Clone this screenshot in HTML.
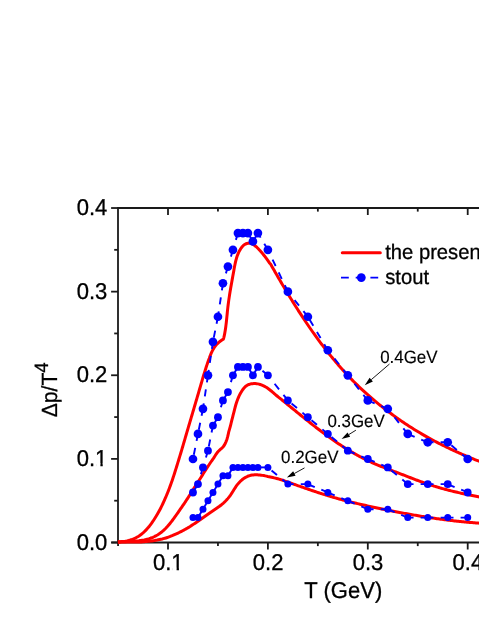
<!DOCTYPE html>
<html><head><meta charset="utf-8"><title>chart</title>
<style>html,body{margin:0;padding:0;background:#fff;}svg{display:block;will-change:transform;}text{font-family:"Liberation Sans",sans-serif;fill:#000;text-rendering:geometricPrecision;stroke:#000;stroke-width:0.3px;}</style></head><body>
<svg width="479" height="620" viewBox="0 0 479 620">
<rect width="479" height="620" fill="#fff"/>
<g stroke="#1a1a1a" stroke-width="1.8" fill="none" stroke-linecap="butt">
<path d="M118,543.40 L118,208 L490,208"/>
<path d="M111.3,542.5 L490,542.5"/>
<path d="M118.05,542.5 L118.05,546.10"/>
<path d="M168.00,542.5 L168.00,549.50"/>
<path d="M168.00,208 L168.00,215.00"/>
<path d="M217.95,542.5 L217.95,546.10"/>
<path d="M217.95,208 L217.95,211.60"/>
<path d="M267.90,542.5 L267.90,549.50"/>
<path d="M267.90,208 L267.90,215.00"/>
<path d="M317.85,542.5 L317.85,546.10"/>
<path d="M317.85,208 L317.85,211.60"/>
<path d="M367.80,542.5 L367.80,549.50"/>
<path d="M367.80,208 L367.80,215.00"/>
<path d="M417.75,542.5 L417.75,546.10"/>
<path d="M417.75,208 L417.75,211.60"/>
<path d="M467.70,542.5 L467.70,549.50"/>
<path d="M467.70,208 L467.70,215.00"/>
<path d="M118,542.50 L111.10,542.50"/>
<path d="M118,500.69 L114.20,500.69"/>
<path d="M118,458.88 L111.10,458.88"/>
<path d="M118,417.07 L114.20,417.07"/>
<path d="M118,375.26 L111.10,375.26"/>
<path d="M118,333.45 L114.20,333.45"/>
<path d="M118,291.64 L111.10,291.64"/>
<path d="M118,249.83 L114.20,249.83"/>
<path d="M118,208.02 L111.10,208.02"/>
</g>
<text transform="translate(168.20,570.40) scale(0.9620,1)" font-size="22.88" text-anchor="middle">0.1</text>
<text transform="translate(268.10,570.40) scale(0.9620,1)" font-size="22.88" text-anchor="middle">0.2</text>
<text transform="translate(368.00,570.40) scale(0.9620,1)" font-size="22.88" text-anchor="middle">0.3</text>
<text transform="translate(467.90,570.40) scale(0.9620,1)" font-size="22.88" text-anchor="middle">0.4</text>
<text transform="translate(107.30,549.50) scale(0.9620,1)" font-size="22.88" text-anchor="end">0.0</text>
<text transform="translate(107.30,465.88) scale(0.9620,1)" font-size="22.88" text-anchor="end">0.1</text>
<text transform="translate(107.30,382.26) scale(0.9620,1)" font-size="22.88" text-anchor="end">0.2</text>
<text transform="translate(107.30,298.64) scale(0.9620,1)" font-size="22.88" text-anchor="end">0.3</text>
<text transform="translate(107.30,215.02) scale(0.9620,1)" font-size="22.88" text-anchor="end">0.4</text>
<rect x="172.33" y="567.79" width="4.26" height="3.81" fill="#fff"/><rect x="178.94" y="567.79" width="4.29" height="3.81" fill="#fff"/>
<rect x="96.13" y="463.27" width="4.26" height="3.81" fill="#fff"/><rect x="102.74" y="463.27" width="4.29" height="3.81" fill="#fff"/>
<text transform="translate(343.30,597.70) scale(0.9620,1)" font-size="22.88" text-anchor="middle">T (GeV)</text>
<text transform="translate(56.7,417.3) rotate(-90) scale(0.962,1)" font-size="21.94">Δp/T<tspan font-size="19.34" dy="-8.7">4</tspan></text>
<g stroke="#ff0000" stroke-width="3.0" fill="none" stroke-linejoin="round" stroke-linecap="butt">
<path d="M117.77,541.75 L119.63,541.71 L121.47,541.61 L123.30,541.43 L125.11,541.18 L126.89,540.85 L128.64,540.45 L130.35,539.98 L132.03,539.42 L133.66,538.79 L135.24,538.08 L136.77,537.29 L138.25,536.42 L139.68,535.49 L141.06,534.48 L142.39,533.41 L143.68,532.28 L144.93,531.10 L146.14,529.87 L147.31,528.60 L148.44,527.28 L149.54,525.93 L150.60,524.55 L151.64,523.14 L152.65,521.70 L153.63,520.25 L154.58,518.79 L155.51,517.31 L156.42,515.82 L157.31,514.32 L158.17,512.80 L159.01,511.28 L159.84,509.74 L160.64,508.19 L161.42,506.64 L162.18,505.07 L162.93,503.49 L163.65,501.91 L164.36,500.31 L165.08,498.71 L165.78,497.10 L166.47,495.48 L167.14,493.85 L167.80,492.22 L168.45,490.58 L169.08,488.94 L169.71,487.29 L170.32,485.63 L170.92,483.97 L171.51,482.31 L172.10,480.64 L172.67,478.97 L173.22,477.29 L173.78,475.61 L174.32,473.93 L174.86,472.25 L175.39,470.57 L175.92,468.88 L176.44,467.19 L176.97,465.51 L177.48,463.82 L178.00,462.13 L178.52,460.44 L179.03,458.76 L179.54,457.07 L180.06,455.39 L180.57,453.71 L181.09,452.03 L181.60,450.35 L182.09,448.67 L182.58,446.99 L183.07,445.32 L183.56,443.64 L184.05,441.97 L184.54,440.30 L185.04,438.63 L185.53,436.95 L186.02,435.28 L186.51,433.62 L187.00,431.95 L187.49,430.28 L187.98,428.61 L188.47,426.94 L188.96,425.27 L189.45,423.61 L189.95,421.94 L190.44,420.27 L190.93,418.61 L191.42,416.94 L191.91,415.27 L192.41,413.61 L192.90,411.94 L193.39,410.27 L193.88,408.60 L194.37,406.93 L194.86,405.26 L195.35,403.59 L195.84,401.92 L196.33,400.25 L196.83,398.58 L197.32,396.91 L197.81,395.23 L198.30,393.56 L198.79,391.88 L199.28,390.20 L199.77,388.53 L200.26,386.85 L200.75,385.17 L201.24,383.48 L201.73,381.80 L202.22,380.11 L202.71,378.43 L203.20,376.74 L203.69,375.05 L204.23,373.35 L204.77,371.66 L205.31,369.96 L205.85,368.26 L206.39,366.56 L206.94,364.87 L207.50,363.18 L208.08,361.50 L208.69,359.84 L209.32,358.19 L209.89,356.57 L210.49,354.97 L211.13,353.40 L211.83,351.86 L212.58,350.36 L213.40,348.91 L214.29,347.49 L215.26,346.13 L216.32,344.82 L217.51,343.56 L218.79,342.36 L220.17,341.23 L221.65,340.16 L223.31,339.25 L223.76,337.85 L224.11,336.36 L224.43,334.85 L224.73,333.34 L225.00,331.82 L225.26,330.30 L225.49,328.77 L225.71,327.23 L225.91,325.68 L226.10,324.14 L226.28,322.58 L226.45,321.03 L226.61,319.48 L226.77,317.92 L226.92,316.36 L227.08,314.80 L227.23,313.25 L227.38,311.69 L227.54,310.14 L227.71,308.59 L227.88,307.05 L228.07,305.51 L228.26,303.98 L228.46,302.45 L228.67,300.92 L228.89,299.39 L229.11,297.87 L229.34,296.35 L229.57,294.83 L229.82,293.31 L230.06,291.79 L230.32,290.27 L230.57,288.76 L230.83,287.24 L231.10,285.72 L231.37,284.20 L231.64,282.68 L231.91,281.16 L232.18,279.63 L232.46,278.11 L232.74,276.57 L233.02,275.04 L233.30,273.50 L233.58,271.96 L233.86,270.41 L234.13,268.86 L234.42,267.31 L234.71,265.75 L235.02,264.20 L235.35,262.66 L235.71,261.12 L236.11,259.59 L236.54,258.07 L237.02,256.57 L237.55,255.09 L238.14,253.63 L238.79,252.19 L239.51,250.77 L240.30,249.39 L241.18,248.04 L242.14,246.78 L243.18,245.66 L244.32,244.71 L245.54,243.99 L246.84,243.51 L248.18,243.25 L249.54,243.24 L250.89,243.46 L252.21,243.93 L253.48,244.63 L254.70,245.53 L255.86,246.46 L256.99,247.47 L258.08,248.56 L259.15,249.68 L260.18,250.81 L261.20,251.95 L262.19,253.10 L263.16,254.29 L264.11,255.49 L265.04,256.69 L265.96,257.90 L266.86,259.10 L267.74,260.33 L268.61,261.61 L269.47,262.89 L270.54,264.06 L271.29,265.37 L272.04,266.68 L272.78,267.99 L273.53,269.30 L274.29,270.61 L275.04,271.92 L275.79,273.23 L276.55,274.53 L277.30,275.84 L278.06,277.15 L278.82,278.46 L279.59,279.76 L280.35,281.07 L281.12,282.37 L281.88,283.68 L282.65,284.98 L283.43,286.28 L284.20,287.59 L284.98,288.89 L285.75,290.19 L286.53,291.49 L287.32,292.79 L288.10,294.09 L288.89,295.38 L289.68,296.68 L290.47,297.97 L291.26,299.26 L292.06,300.56 L292.86,301.85 L293.66,303.13 L294.46,304.42 L295.27,305.71 L296.08,306.99 L296.89,308.27 L297.71,309.55 L298.52,310.83 L299.35,312.11 L300.17,313.38 L301.00,314.66 L301.82,315.93 L302.66,317.20 L303.49,318.47 L304.33,319.73 L305.17,320.99 L306.02,322.25 L306.87,323.51 L307.72,324.77 L308.57,326.02 L309.43,327.27 L310.29,328.52 L311.16,329.76 L312.03,331.01 L312.90,332.25 L313.78,333.48 L314.66,334.72 L315.54,335.95 L316.43,337.18 L317.32,338.41 L318.21,339.63 L319.11,340.85 L320.02,342.07 L320.92,343.28 L321.83,344.49 L322.75,345.70 L323.67,346.90 L324.59,348.10 L325.52,349.30 L326.45,350.49 L327.38,351.68 L328.32,352.87 L329.27,354.05 L330.22,355.23 L331.17,356.40 L332.13,357.57 L333.09,358.74 L334.06,359.90 L335.03,361.06 L336.01,362.22 L336.99,363.37 L337.97,364.51 L338.96,365.66 L339.96,366.80 L340.96,367.93 L341.97,369.06 L342.98,370.18 L343.99,371.31 L345.01,372.42 L346.04,373.53 L347.07,374.64 L348.10,375.74 L349.15,376.84 L350.19,377.93 L351.24,379.02 L352.30,380.10 L353.36,381.18 L354.43,382.25 L355.51,383.32 L356.59,384.38 L357.67,385.44 L358.76,386.49 L359.86,387.54 L360.96,388.58 L362.07,389.62 L363.18,390.65 L364.29,391.68 L365.42,392.70 L366.54,393.71 L367.68,394.72 L368.81,395.73 L369.96,396.73 L371.10,397.72 L372.25,398.71 L373.41,399.70 L374.57,400.68 L375.74,401.65 L376.91,402.62 L378.08,403.58 L379.26,404.54 L380.44,405.49 L381.63,406.44 L382.82,407.38 L384.01,408.32 L385.21,409.25 L386.42,410.17 L387.62,411.09 L388.83,412.01 L390.05,412.92 L391.27,413.82 L392.49,414.72 L393.71,415.62 L394.94,416.50 L396.18,417.39 L397.41,418.26 L398.65,419.14 L399.90,420.00 L401.14,420.86 L402.40,421.72 L403.65,422.57 L404.91,423.41 L406.17,424.25 L407.44,425.08 L408.71,425.91 L409.98,426.73 L411.26,427.54 L412.54,428.35 L413.82,429.15 L415.11,429.95 L416.40,430.74 L417.69,431.53 L418.99,432.31 L420.29,433.08 L421.60,433.85 L422.90,434.61 L424.22,435.37 L425.53,436.12 L426.85,436.86 L428.17,437.60 L429.49,438.33 L430.82,439.06 L432.15,439.78 L433.49,440.50 L434.83,441.21 L436.17,441.91 L437.51,442.61 L438.86,443.30 L440.20,443.99 L441.56,444.67 L442.91,445.35 L444.27,446.02 L445.63,446.69 L446.99,447.35 L448.36,448.01 L449.73,448.66 L451.10,449.30 L452.47,449.94 L453.85,450.58 L455.22,451.21 L456.60,451.84 L457.99,452.46 L459.37,453.07 L460.76,453.68 L462.15,454.29 L463.54,454.89 L464.94,455.48 L466.33,456.07 L467.73,456.66 L469.13,457.24 L470.54,457.82 L471.94,458.39 L473.35,458.96 L474.75,459.52 L476.16,460.08 L477.58,460.63 L478.99,461.18 L480.41,461.73 L481.82,462.27 L483.24,462.81 L484.66,463.34 L486.08,463.86"/>
<path d="M118.04,542.14 L119.26,542.01 L120.50,541.90 L121.76,541.81 L123.03,541.73 L124.32,541.67 L125.61,541.63 L126.92,541.59 L128.23,541.56 L129.56,541.53 L130.88,541.45 L132.22,541.35 L133.55,541.25 L134.89,541.13 L136.22,541.01 L137.56,540.87 L138.89,540.72 L140.21,540.54 L141.53,540.35 L142.84,540.13 L144.15,539.89 L145.44,539.62 L146.72,539.33 L147.99,539.00 L149.24,538.63 L150.47,538.23 L151.69,537.78 L152.88,537.28 L154.06,536.74 L155.21,536.15 L156.34,535.57 L157.45,534.93 L158.53,534.25 L159.60,533.53 L160.64,532.78 L161.66,531.99 L162.66,531.17 L163.64,530.32 L164.60,529.45 L165.54,528.51 L166.46,527.53 L167.37,526.54 L168.25,525.53 L169.12,524.50 L169.98,523.46 L170.82,522.40 L171.65,521.32 L172.47,520.24 L173.28,519.15 L174.08,518.05 L174.88,516.95 L175.67,515.85 L176.45,514.74 L177.23,513.63 L178.01,512.52 L178.78,511.40 L179.54,510.29 L180.30,509.19 L181.05,508.12 L181.81,507.04 L182.55,505.96 L183.29,504.88 L184.03,503.80 L184.76,502.72 L185.49,501.63 L186.21,500.54 L186.93,499.45 L187.65,498.35 L188.36,497.25 L189.07,496.15 L189.77,495.05 L190.47,493.95 L191.17,492.84 L191.87,491.73 L192.56,490.62 L193.24,489.51 L193.93,488.39 L194.61,487.27 L195.28,486.20 L195.96,485.18 L196.63,484.16 L197.29,483.13 L197.96,482.11 L198.62,481.08 L199.28,480.05 L199.94,479.01 L200.59,477.98 L201.25,476.94 L201.90,475.90 L202.54,474.86 L203.19,473.82 L203.84,472.78 L204.49,471.74 L205.14,470.71 L205.78,469.70 L206.43,468.70 L207.08,467.70 L207.74,466.70 L208.39,465.71 L209.05,464.71 L209.72,463.72 L210.38,462.73 L211.05,461.75 L211.73,460.77 L212.41,459.79 L213.09,458.82 L213.79,457.86 L214.51,456.72 L215.26,455.51 L216.03,454.31 L216.85,453.14 L217.72,451.99 L218.64,451.00 L219.61,450.11 L220.60,449.24 L221.58,448.36 L222.51,447.46 L223.38,446.51 L224.13,445.49 L224.79,444.40 L225.36,443.25 L225.87,442.07 L226.33,440.87 L226.77,439.66 L227.18,438.43 L227.54,437.20 L227.85,435.96 L228.14,434.71 L228.41,433.46 L228.66,432.19 L229.02,430.93 L229.39,429.66 L229.75,428.38 L230.10,427.10 L230.44,425.81 L230.77,424.53 L231.09,423.24 L231.41,421.95 L231.72,420.65 L232.04,419.36 L232.38,418.07 L232.71,416.77 L233.05,415.48 L233.38,414.19 L233.72,412.90 L234.05,411.61 L234.35,410.33 L234.66,409.05 L234.99,407.78 L235.33,406.51 L235.68,405.24 L236.06,403.99 L236.46,402.74 L236.88,401.49 L237.34,400.26 L237.79,399.03 L238.28,397.82 L238.80,396.61 L239.36,395.41 L239.96,394.23 L240.60,393.06 L241.29,391.92 L241.94,390.81 L242.66,389.75 L243.43,388.74 L244.24,387.81 L245.01,386.95 L245.88,386.18 L246.83,385.50 L247.86,384.93 L248.92,384.47 L250.06,384.10 L251.26,383.84 L252.57,383.67 L253.91,383.59 L255.23,383.60 L256.51,383.70 L257.77,383.89 L259.00,384.15 L260.20,384.50 L261.36,384.92 L262.49,385.41 L263.58,385.88 L264.64,386.40 L265.68,386.97 L266.70,387.59 L267.70,388.26 L268.68,388.96 L269.65,389.70 L270.61,390.46 L271.56,391.23 L272.53,392.06 L273.51,392.91 L274.49,393.77 L275.44,394.68 L276.43,395.47 L277.41,396.26 L278.40,397.05 L279.39,397.85 L280.37,398.65 L281.36,399.44 L282.34,400.24 L283.33,401.04 L284.31,401.84 L285.30,402.65 L286.28,403.45 L287.27,404.25 L288.25,405.06 L289.24,405.86 L290.22,406.67 L291.21,407.48 L292.20,408.28 L293.18,409.09 L294.17,409.90 L295.16,410.70 L296.14,411.51 L297.13,412.32 L298.12,413.12 L299.11,413.93 L300.10,414.74 L301.09,415.54 L302.08,416.35 L303.08,417.15 L304.07,417.95 L305.07,418.75 L306.06,419.55 L307.06,420.35 L308.06,421.15 L309.05,421.94 L310.05,422.74 L311.06,423.53 L312.06,424.32 L313.06,425.11 L314.07,425.90 L315.08,426.68 L316.08,427.46 L317.10,428.24 L318.11,429.02 L319.12,429.80 L320.14,430.57 L321.15,431.34 L322.17,432.11 L323.19,432.87 L324.22,433.63 L325.24,434.39 L326.27,435.15 L327.30,435.90 L328.33,436.64 L329.36,437.39 L330.40,438.13 L331.44,438.87 L332.48,439.60 L333.52,440.33 L334.57,441.05 L335.61,441.77 L336.66,442.49 L337.72,443.20 L338.77,443.91 L339.83,444.61 L340.89,445.31 L341.96,446.00 L343.02,446.69 L344.09,447.38 L345.17,448.05 L346.24,448.73 L347.32,449.39 L348.41,450.06 L349.49,450.71 L350.58,451.36 L351.67,452.01 L352.77,452.65 L353.87,453.28 L354.97,453.91 L356.07,454.53 L357.18,455.14 L358.30,455.75 L359.41,456.35 L360.53,456.95 L361.66,457.54 L362.79,458.12 L363.92,458.69 L365.06,459.26 L366.20,459.82 L367.34,460.38 L368.49,460.92 L369.64,461.46 L370.80,461.99 L371.96,462.52 L373.12,463.03 L374.29,463.54 L375.46,464.05 L376.63,464.55 L377.81,465.04 L378.99,465.53 L380.17,466.01 L381.36,466.49 L382.55,466.96 L383.73,467.43 L384.93,467.90 L386.12,468.36 L387.31,468.83 L388.50,469.29 L389.70,469.74 L390.89,470.20 L392.09,470.66 L393.29,471.11 L394.48,471.56 L395.68,472.02 L396.87,472.47 L398.07,472.93 L399.26,473.39 L400.45,473.84 L401.64,474.30 L402.83,474.76 L404.02,475.22 L405.21,475.68 L406.39,476.14 L407.58,476.60 L408.77,477.06 L409.96,477.52 L411.14,477.98 L412.33,478.44 L413.52,478.89 L414.70,479.34 L415.89,479.79 L417.08,480.24 L418.27,480.69 L419.46,481.13 L420.65,481.56 L421.85,482.00 L423.04,482.43 L424.24,482.85 L425.44,483.27 L426.64,483.69 L427.84,484.10 L429.05,484.50 L430.25,484.90 L431.46,485.29 L432.67,485.68 L433.89,486.06 L435.10,486.43 L436.32,486.80 L437.54,487.16 L438.76,487.52 L439.98,487.88 L441.21,488.22 L442.44,488.57 L443.66,488.91 L444.89,489.24 L446.13,489.57 L447.36,489.89 L448.59,490.21 L449.83,490.53 L451.07,490.84 L452.30,491.14 L453.54,491.45 L454.78,491.74 L456.03,492.04 L457.27,492.33 L458.51,492.62 L459.76,492.90 L461.00,493.18 L462.25,493.45 L463.49,493.73 L464.74,493.99 L465.99,494.26 L467.24,494.52 L468.49,494.78 L469.74,495.04 L470.98,495.29 L472.23,495.55 L473.48,495.79 L474.73,496.04 L475.98,496.28 L477.23,496.53 L478.48,496.77 L479.73,497.00 L480.98,497.24 L482.23,497.47 L483.48,497.70 L484.73,497.93 L485.98,498.16"/>
<path d="M118.00,542.19 L119.29,542.14 L120.58,542.10 L121.87,542.07 L123.17,542.04 L124.47,542.03 L125.78,542.02 L127.08,542.01 L128.39,542.01 L129.70,542.01 L131.01,542.01 L132.33,542.02 L133.64,542.02 L134.95,542.02 L136.27,542.01 L137.58,542.01 L138.90,541.99 L140.21,541.97 L141.53,541.89 L142.84,541.80 L144.15,541.71 L145.46,541.60 L146.77,541.48 L148.07,541.35 L149.38,541.21 L150.68,541.05 L151.97,540.89 L153.27,540.71 L154.56,540.52 L155.84,540.30 L157.12,540.07 L158.40,539.81 L159.67,539.53 L160.94,539.26 L162.20,538.97 L163.46,538.65 L164.71,538.31 L165.95,537.94 L167.19,537.55 L168.42,537.12 L169.65,536.68 L170.87,536.20 L172.08,535.71 L173.28,535.19 L174.48,534.66 L175.67,534.13 L176.85,533.60 L178.03,533.05 L179.20,532.49 L180.36,531.91 L181.51,531.31 L182.66,530.71 L183.80,530.10 L184.92,529.50 L186.05,528.88 L187.16,528.25 L188.26,527.62 L189.36,526.97 L190.46,526.30 L191.54,525.58 L192.62,524.85 L193.70,524.12 L194.77,523.39 L195.84,522.65 L196.91,521.91 L197.97,521.16 L199.04,520.42 L200.10,519.67 L201.16,518.92 L202.22,518.17 L203.29,517.42 L204.35,516.67 L205.42,515.92 L206.49,515.18 L207.56,514.43 L208.64,513.69 L209.72,512.96 L210.80,512.22 L211.90,511.50 L212.99,510.77 L214.09,510.04 L215.18,509.32 L216.27,508.58 L217.35,507.84 L218.42,507.08 L219.48,506.31 L220.51,505.52 L221.53,504.71 L222.52,503.87 L223.49,503.02 L224.44,502.14 L225.36,501.24 L226.26,500.31 L227.13,499.37 L227.98,498.39 L228.79,497.40 L229.58,496.38 L230.34,495.33 L231.07,494.26 L231.79,493.17 L232.48,492.06 L233.18,490.95 L233.87,489.83 L234.57,488.71 L235.28,487.59 L236.01,486.48 L236.77,485.43 L237.56,484.41 L238.39,483.41 L239.25,482.44 L240.15,481.50 L241.08,480.61 L242.04,479.78 L243.04,478.99 L244.07,478.27 L245.13,477.62 L246.22,477.04 L247.34,476.48 L248.50,476.00 L249.68,475.61 L250.88,475.31 L252.12,475.08 L253.37,474.92 L254.64,474.83 L255.92,474.80 L257.22,474.82 L258.52,474.88 L259.84,475.00 L261.16,475.16 L262.48,475.36 L263.80,475.59 L265.12,475.86 L266.44,476.14 L267.74,476.45 L269.04,476.71 L270.32,476.97 L271.59,477.25 L272.86,477.54 L274.12,477.84 L275.37,478.15 L276.61,478.48 L277.85,478.81 L279.08,479.15 L280.31,479.50 L281.53,479.86 L282.75,480.26 L283.97,480.70 L285.15,481.17 L286.34,481.59 L287.53,482.01 L288.72,482.43 L289.91,482.85 L291.10,483.27 L292.29,483.69 L293.48,484.11 L294.67,484.53 L295.87,484.95 L297.06,485.37 L298.25,485.79 L299.44,486.21 L300.64,486.63 L301.83,487.04 L303.02,487.46 L304.22,487.87 L305.41,488.29 L306.61,488.70 L307.80,489.11 L309.00,489.52 L310.20,489.92 L311.40,490.33 L312.59,490.73 L313.79,491.14 L314.99,491.54 L316.19,491.93 L317.39,492.33 L318.59,492.72 L319.80,493.11 L321.00,493.50 L322.20,493.89 L323.41,494.27 L324.61,494.65 L325.82,495.03 L327.03,495.40 L328.23,495.77 L329.44,496.14 L330.65,496.50 L331.86,496.86 L333.08,497.21 L334.29,497.57 L335.50,497.91 L336.72,498.26 L337.93,498.60 L339.15,498.94 L340.37,499.27 L341.59,499.60 L342.81,499.93 L344.03,500.25 L345.25,500.57 L346.47,500.89 L347.70,501.21 L348.92,501.52 L350.14,501.83 L351.37,502.13 L352.60,502.43 L353.82,502.73 L355.05,503.03 L356.28,503.33 L357.51,503.62 L358.74,503.91 L359.97,504.19 L361.20,504.48 L362.43,504.76 L363.66,505.04 L364.90,505.32 L366.13,505.59 L367.36,505.87 L368.60,506.14 L369.83,506.41 L371.07,506.68 L372.30,506.94 L373.54,507.21 L374.77,507.47 L376.01,507.73 L377.25,507.99 L378.49,508.25 L379.72,508.51 L380.96,508.76 L382.20,509.01 L383.44,509.27 L384.68,509.52 L385.92,509.77 L387.16,510.02 L388.40,510.27 L389.64,510.51 L390.88,510.76 L392.12,511.00 L393.36,511.24 L394.60,511.48 L395.84,511.72 L397.09,511.96 L398.33,512.20 L399.57,512.43 L400.81,512.67 L402.06,512.90 L403.30,513.13 L404.54,513.36 L405.79,513.59 L407.03,513.81 L408.28,514.03 L409.52,514.26 L410.77,514.48 L412.01,514.70 L413.26,514.91 L414.50,515.13 L415.75,515.34 L416.99,515.55 L418.24,515.76 L419.49,515.97 L420.74,516.17 L421.98,516.38 L423.23,516.58 L424.48,516.78 L425.73,516.98 L426.98,517.17 L428.23,517.36 L429.47,517.56 L430.72,517.74 L431.97,517.93 L433.22,518.12 L434.48,518.30 L435.73,518.48 L436.98,518.66 L438.23,518.83 L439.48,519.01 L440.73,519.18 L441.98,519.34 L443.24,519.51 L444.49,519.67 L445.74,519.84 L447.00,519.99 L448.25,520.15 L449.50,520.31 L450.76,520.46 L452.01,520.61 L453.27,520.75 L454.52,520.89 L455.78,521.04 L457.04,521.17 L458.29,521.31 L459.55,521.44 L460.81,521.57 L462.06,521.70 L463.32,521.82 L464.58,521.95 L465.84,522.06 L467.09,522.18 L468.35,522.29 L469.61,522.40 L470.87,522.51 L472.13,522.61 L473.39,522.72 L474.65,522.81 L475.91,522.91 L477.17,523.00 L478.44,523.09 L479.70,523.18 L480.96,523.26 L482.22,523.34 L483.48,523.41 L484.75,523.49 L486.01,523.56"/>
</g>
<g stroke="#0000ff" stroke-width="1.9" fill="none" stroke-dasharray="7.1 7.1">
<path d="M467.70,459.02 L447.72,442.28"/>
<path d="M447.72,442.28 L427.74,442.28"/>
<path d="M427.74,442.28 L407.76,433.92"/>
<path d="M407.76,433.92 L387.78,408.81"/>
<path d="M387.78,408.81 L367.80,400.44"/>
<path d="M367.80,400.44 L347.82,375.34"/>
<path d="M347.82,375.34 L327.84,350.24"/>
<path d="M327.84,350.24 L307.86,316.76"/>
<path d="M307.86,316.76 L287.88,291.66"/>
<path d="M287.88,291.66 L267.90,249.82"/>
<path d="M267.90,249.82 L257.91,233.08"/>
<path d="M257.91,233.08 L252.91,241.45"/>
<path d="M252.91,241.45 L247.92,233.08"/>
<path d="M247.92,233.08 L242.92,233.08"/>
<path d="M242.92,233.08 L237.93,233.08"/>
<path d="M237.93,233.08 L232.94,249.82"/>
<path d="M232.94,249.82 L227.94,266.56"/>
<path d="M227.94,266.56 L222.94,283.29"/>
<path d="M222.94,283.29 L217.95,316.76"/>
<path d="M217.95,316.76 L212.95,341.87"/>
<path d="M212.95,341.87 L207.96,375.34"/>
<path d="M207.96,375.34 L202.97,408.81"/>
<path d="M202.97,408.81 L197.97,433.92"/>
<path d="M197.97,433.92 L192.97,459.02"/>
<path d="M467.70,492.49 L447.72,484.12"/>
<path d="M447.72,484.12 L427.74,484.12"/>
<path d="M427.74,484.12 L407.76,484.12"/>
<path d="M407.76,484.12 L387.78,467.39"/>
<path d="M387.78,467.39 L367.80,459.02"/>
<path d="M367.80,459.02 L347.82,450.65"/>
<path d="M347.82,450.65 L327.84,433.92"/>
<path d="M327.84,433.92 L307.86,417.18"/>
<path d="M307.86,417.18 L287.88,400.44"/>
<path d="M287.88,400.44 L267.90,375.34"/>
<path d="M267.90,375.34 L257.91,366.97"/>
<path d="M257.91,366.97 L252.91,375.34"/>
<path d="M252.91,375.34 L247.92,366.97"/>
<path d="M247.92,366.97 L242.92,366.97"/>
<path d="M242.92,366.97 L237.93,366.97"/>
<path d="M237.93,366.97 L232.94,375.34"/>
<path d="M232.94,375.34 L227.94,392.08"/>
<path d="M227.94,392.08 L222.94,400.44"/>
<path d="M222.94,400.44 L217.95,417.18"/>
<path d="M217.95,417.18 L212.95,425.55"/>
<path d="M212.95,425.55 L207.96,450.65"/>
<path d="M207.96,450.65 L202.97,467.39"/>
<path d="M202.97,467.39 L197.97,484.12"/>
<path d="M197.97,484.12 L192.97,492.49"/>
<path d="M467.70,517.60 L447.72,517.60"/>
<path d="M447.72,517.60 L427.74,517.60"/>
<path d="M427.74,517.60 L407.76,517.60"/>
<path d="M407.76,517.60 L387.78,509.23"/>
<path d="M387.78,509.23 L367.80,509.23"/>
<path d="M367.80,509.23 L347.82,500.86"/>
<path d="M347.82,500.86 L327.84,492.49"/>
<path d="M327.84,492.49 L307.86,484.12"/>
<path d="M307.86,484.12 L287.88,484.12"/>
<path d="M287.88,484.12 L267.90,467.39"/>
<path d="M267.90,467.39 L257.91,467.39"/>
<path d="M257.91,467.39 L252.91,467.39"/>
<path d="M252.91,467.39 L247.92,467.39"/>
<path d="M247.92,467.39 L242.92,467.39"/>
<path d="M242.92,467.39 L237.93,467.39"/>
<path d="M237.93,467.39 L232.94,467.39"/>
<path d="M232.94,467.39 L227.94,475.76"/>
<path d="M227.94,475.76 L222.94,475.76"/>
<path d="M222.94,475.76 L217.95,484.12"/>
<path d="M217.95,484.12 L212.95,492.49"/>
<path d="M212.95,492.49 L207.96,500.86"/>
<path d="M207.96,500.86 L202.97,509.23"/>
<path d="M202.97,509.23 L197.97,517.60"/>
<path d="M197.97,517.60 L192.97,517.60"/>
</g>
<g fill="#0000ff">
<circle cx="192.97" cy="459.02" r="4.35"/>
<circle cx="197.97" cy="433.92" r="4.35"/>
<circle cx="202.97" cy="408.81" r="4.35"/>
<circle cx="207.96" cy="375.34" r="4.35"/>
<circle cx="212.95" cy="341.87" r="4.35"/>
<circle cx="217.95" cy="316.76" r="4.35"/>
<circle cx="222.94" cy="283.29" r="4.35"/>
<circle cx="227.94" cy="266.56" r="4.35"/>
<circle cx="232.94" cy="249.82" r="4.35"/>
<circle cx="237.93" cy="233.08" r="4.35"/>
<circle cx="242.92" cy="233.08" r="4.35"/>
<circle cx="247.92" cy="233.08" r="4.35"/>
<circle cx="252.91" cy="241.45" r="4.35"/>
<circle cx="257.91" cy="233.08" r="4.35"/>
<circle cx="267.90" cy="249.82" r="4.35"/>
<circle cx="287.88" cy="291.66" r="4.35"/>
<circle cx="307.86" cy="316.76" r="4.35"/>
<circle cx="327.84" cy="350.24" r="4.35"/>
<circle cx="347.82" cy="375.34" r="4.35"/>
<circle cx="367.80" cy="400.44" r="4.35"/>
<circle cx="387.78" cy="408.81" r="4.35"/>
<circle cx="407.76" cy="433.92" r="4.35"/>
<circle cx="427.74" cy="442.28" r="4.35"/>
<circle cx="447.72" cy="442.28" r="4.35"/>
<circle cx="467.70" cy="459.02" r="4.35"/>
<circle cx="192.97" cy="492.49" r="3.9"/>
<circle cx="197.97" cy="484.12" r="3.9"/>
<circle cx="202.97" cy="467.39" r="3.9"/>
<circle cx="207.96" cy="450.65" r="3.9"/>
<circle cx="212.95" cy="425.55" r="3.9"/>
<circle cx="217.95" cy="417.18" r="3.9"/>
<circle cx="222.94" cy="400.44" r="3.9"/>
<circle cx="227.94" cy="392.08" r="3.9"/>
<circle cx="232.94" cy="375.34" r="3.9"/>
<circle cx="237.93" cy="366.97" r="3.9"/>
<circle cx="242.92" cy="366.97" r="3.9"/>
<circle cx="247.92" cy="366.97" r="3.9"/>
<circle cx="252.91" cy="375.34" r="3.9"/>
<circle cx="257.91" cy="366.97" r="3.9"/>
<circle cx="267.90" cy="375.34" r="3.9"/>
<circle cx="287.88" cy="400.44" r="3.9"/>
<circle cx="307.86" cy="417.18" r="3.9"/>
<circle cx="327.84" cy="433.92" r="3.9"/>
<circle cx="347.82" cy="450.65" r="3.9"/>
<circle cx="367.80" cy="459.02" r="3.9"/>
<circle cx="387.78" cy="467.39" r="3.9"/>
<circle cx="407.76" cy="484.12" r="3.9"/>
<circle cx="427.74" cy="484.12" r="3.9"/>
<circle cx="447.72" cy="484.12" r="3.9"/>
<circle cx="467.70" cy="492.49" r="3.9"/>
<circle cx="192.97" cy="517.60" r="3.5"/>
<circle cx="197.97" cy="517.60" r="3.5"/>
<circle cx="202.97" cy="509.23" r="3.5"/>
<circle cx="207.96" cy="500.86" r="3.5"/>
<circle cx="212.95" cy="492.49" r="3.5"/>
<circle cx="217.95" cy="484.12" r="3.5"/>
<circle cx="222.94" cy="475.76" r="3.5"/>
<circle cx="227.94" cy="475.76" r="3.5"/>
<circle cx="232.94" cy="467.39" r="3.5"/>
<circle cx="237.93" cy="467.39" r="3.5"/>
<circle cx="242.92" cy="467.39" r="3.5"/>
<circle cx="247.92" cy="467.39" r="3.5"/>
<circle cx="252.91" cy="467.39" r="3.5"/>
<circle cx="257.91" cy="467.39" r="3.5"/>
<circle cx="267.90" cy="467.39" r="3.5"/>
<circle cx="287.88" cy="484.12" r="3.5"/>
<circle cx="307.86" cy="484.12" r="3.5"/>
<circle cx="327.84" cy="492.49" r="3.5"/>
<circle cx="347.82" cy="500.86" r="3.5"/>
<circle cx="367.80" cy="509.23" r="3.5"/>
<circle cx="387.78" cy="509.23" r="3.5"/>
<circle cx="407.76" cy="517.60" r="3.5"/>
<circle cx="427.74" cy="517.60" r="3.5"/>
<circle cx="447.72" cy="517.60" r="3.5"/>
<circle cx="467.70" cy="517.60" r="3.5"/>
</g>
<path d="M342.3,252.7 L380.3,252.7" stroke="#ff0000" stroke-width="3.0" stroke-linecap="round"/>
<path d="M341,277.6 L380,277.6" stroke="#0000ff" stroke-width="1.9" stroke-dasharray="7.8 6.9"/>
<circle cx="361.3" cy="277.6" r="4.4" fill="#0000ff"/>
<text transform="translate(385.20,259.10) scale(0.9620,1)" font-size="21.01" text-anchor="start">the present</text>
<text transform="translate(385.20,283.90) scale(0.9620,1)" font-size="21.01" text-anchor="start">stout</text>
<text transform="translate(380.20,362.70) scale(0.9572,1)" font-size="17.68" text-anchor="start" style="stroke-width:0.15px">0.4GeV</text>
<text transform="translate(327.40,426.90) scale(0.9572,1)" font-size="17.68" text-anchor="start" style="stroke-width:0.15px">0.3GeV</text>
<text transform="translate(281.10,463.20) scale(0.9572,1)" font-size="17.68" text-anchor="start" style="stroke-width:0.15px">0.2GeV</text>
<path d="M389.50,364.00 L371.25,379.66" stroke="#000" stroke-width="0.9" fill="none"/><path d="M364.80,385.20 L369.62,377.77 L372.88,381.56 Z" fill="#000"/>
<path d="M355.90,430.20 L348.84,434.55" stroke="#000" stroke-width="0.9" fill="none"/><path d="M341.60,439.00 L347.53,432.42 L350.15,436.67 Z" fill="#000"/>
<path d="M304.50,467.90 L294.34,473.50" stroke="#000" stroke-width="0.9" fill="none"/><path d="M286.90,477.60 L293.14,471.31 L295.55,475.69 Z" fill="#000"/>
</svg></body></html>
